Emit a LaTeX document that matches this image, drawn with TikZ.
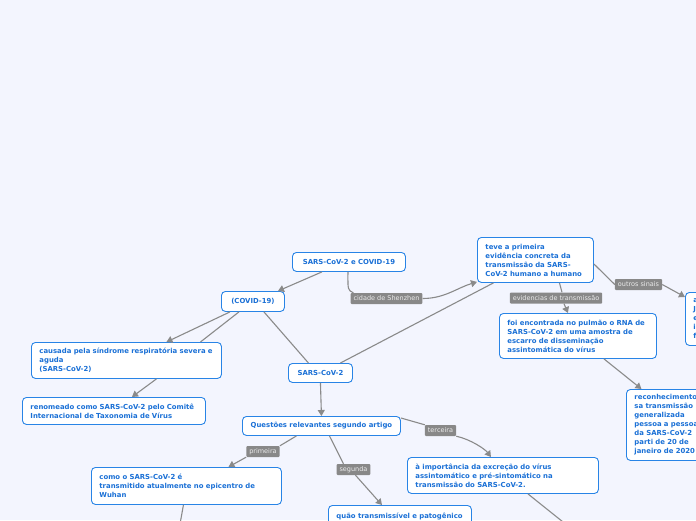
\documentclass[tikz,border=0pt]{standalone}
\usepackage{fontspec}
\setmainfont{DejaVu Sans}
\usetikzlibrary{arrows.meta}
\definecolor{bgc}{RGB}{243,245,254}
\definecolor{bordc}{RGB}{40,132,230}
\definecolor{txtc}{RGB}{26,112,214}
\definecolor{linec}{RGB}{138,138,138}
\definecolor{labc}{RGB}{136,136,136}
\tikzset{
  box/.style={draw=bordc, line width=0.9pt, fill=white, rounded corners=4pt,
    text=txtc, font=\fontsize{6.9}{9}\selectfont\bfseries, anchor=north west,
    inner xsep=8pt, inner ysep=0pt, align=left},
  cbox/.style={box, align=center},
  lab/.style={fill=labc, text=white!92!black, font=\fontsize{6.5}{7}\selectfont,
    inner xsep=3pt, inner ysep=0pt, minimum height=11pt, rounded corners=1pt},
  conn/.style={draw=linec, line width=1.1pt},
  arr/.style={conn, -{Triangle[width=7pt,length=6pt]}},
}
\begin{document}
\begin{tikzpicture}[x=1pt,y=-1pt]
\useasboundingbox (0,0) rectangle (696,520);
\fill[bgc] (0,0) rectangle (696,520);
\clip (0,0) rectangle (696,520);

% nodes
\node[cbox, minimum width=113pt, minimum height=19pt] (n1) at (292,252) {SARS-CoV-2 e COVID-19};
\node[cbox, minimum width=63pt, minimum height=20pt] (n2) at (221,291) {(COVID-19)};
\node[box, text width=100pt, minimum height=45pt] (n3) at (477,237) {teve a primeira\\evidência concreta da\\transmissão da SARS-\\CoV-2 humano a humano};
\node[box, text width=141pt, minimum height=45pt] (n4) at (499,313) {foi encontrada no pulmão o RNA de\\SARS-CoV-2 em uma amostra de\\escarro de disseminação\\assintomática do vírus};
\node[box, text width=80pt, minimum height=53pt] (n5) at (685,292) {a\\J\\e\\i\\f};
\node[box, text width=174pt, minimum height=36pt] (n6) at (31,342) {causada pela síndrome respiratória severa e\\aguda\\(SARS-CoV-2)};
\node[box, text width=167pt, minimum height=27pt] (n7) at (22,397) {renomeado como SARS-CoV-2 pelo Comitê\\Internacional de Taxonomia de Vírus};
\node[cbox, minimum width=64pt, minimum height=19pt] (n8) at (288,363) {SARS-CoV-2};
\node[cbox, minimum width=158pt, minimum height=19pt] (n9) at (242,416) {Questões relevantes segundo artigo};
\node[box, text width=174pt, minimum height=37pt] (n10) at (91,467) {como o SARS-CoV-2 é\\transmitido atualmente no epicentro de\\Wuhan};
\node[box, text width=175pt, minimum height=36pt] (n11) at (407,457) {à importância da excreção do vírus\\assintomático e pré-sintomático na\\transmissão do SARS-CoV-2.};
\node[box, text width=127pt, minimum height=30pt, align=left] (n12) at (328,505) {quão transmissível e patogênico\\~};
\node[box, text width=80pt, minimum height=71pt] (n13) at (626,389) {reconhecimento\\sa transmissão\\generalizada\\pessoa a pessoa\\da SARS-CoV-2\\parti de 20 de\\janeiro de 2020};

% labels
\node[lab] (l1) at (386.5,298.5) {cidade de Shenzhen};
\node[lab] (l2) at (638.5,284.5) {outros sinais};
\node[lab] (l3) at (556,298) {evidencias de transmissão};
\node[lab] (l4) at (440.5,430.5) {terceira};
\node[lab] (l5) at (263,451.5) {primeira};
\node[lab] (l6) at (353.5,469.5) {segunda};

\coordinate (c1) at (568,526);
\coordinate (c2) at (180,524);

% connectors
\draw[arr] ([xshift=-27pt]n1.south) -- ([xshift=25pt]n2.north);
\draw[conn] ([xshift=-1pt]n1.south) .. controls +(0,18) and +(-6,-3) .. ([xshift=3pt]l1.north west);
\draw[arr] (l1.east) .. controls +(22,0) and +(-20,6) .. ([yshift=1pt]n3.south west);
\draw[conn] ([xshift=20pt]n8.north) -- ([xshift=-42pt]n3.south);
\draw[arr] ([xshift=-23pt]n2.south) -- ([xshift=40pt]n6.north);
\draw[conn] ([xshift=-14pt]n2.south) -- ([xshift=74pt]n6.north);
\draw[conn] ([xshift=11pt]n2.south) -- ([xshift=-12pt]n8.north);
\draw[arr] ([xshift=30pt]n6.south) -- ([xshift=18pt]n7.north);
\draw[arr] (n8.south) -- (n9.north);
\draw[conn] ([yshift=-2pt]n9.north east) -- (l4.north west);
\draw[arr] (l4.south east) .. controls +(14,3) and +(-6,-8) .. ([xshift=-12pt]n11.north);
\draw[conn] ([xshift=-25pt]n9.south) -- (l5.north east);
\draw[arr] (l5.south west) -- ([xshift=42pt]n10.north);
\draw[conn] ([xshift=8pt]n9.south) -- ([xshift=-10pt]l6.north);
\draw[arr] ([xshift=2pt]l6.south) -- ([xshift=-18pt]n12.north);
\draw[conn] ([xshift=24pt]n3.south) -- ([xshift=6pt]l3.north);
\draw[arr] ([xshift=8pt]l3.south) -- ([xshift=-10pt]n4.north);
\draw[conn] ([yshift=-4pt]n3.east) -- (l2.west);
\draw[arr] (l2.east) -- ([yshift=-5pt]n5.north west);
\draw[arr] ([xshift=26pt]n4.south) -- ([xshift=-33pt]n13.north);
\draw[conn] ([xshift=25pt]n11.south) -- (c1);
\draw[conn] ([xshift=-3pt]n10.south) -- (c2);
\end{tikzpicture}
\end{document}
